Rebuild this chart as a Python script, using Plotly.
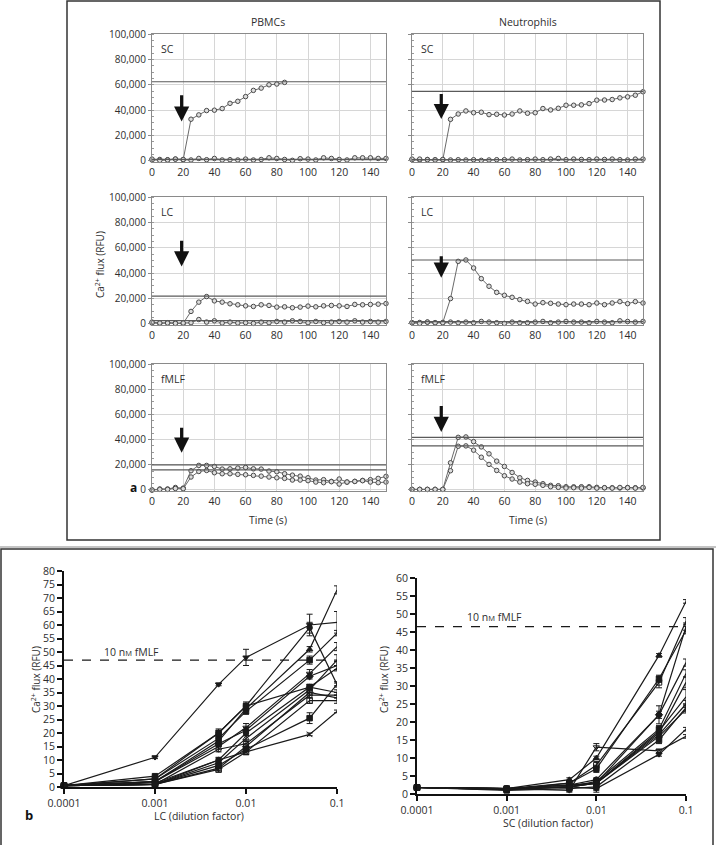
import plotly.graph_objects as go

W, H = 716, 845

# ---------------- panel a data ----------------
time_s = [0, 5, 10, 15, 20, 25, 30, 35, 40, 45, 50, 55, 60, 65, 70, 75, 80, 85, 90,
          95, 100, 105, 110, 115, 120, 125, 130, 135, 140, 145, 150]
time_ticks = [0, 20, 40, 60, 80, 100, 120, 140]

pbmc_sc = [800, 1200, 1000, 1500, 1000, 32900, 36300, 39700, 40000, 41300, 45400, 47000,
           50700, 55600, 57400, 60000, 60600, 61900]
pbmc_sc_base = [1500, 500, 800, 1500, 1200, 800, 2000, 1000, 2000, 800, 1000, 800, 1500, 800,
                1200, 2500, 2000, 1200, 500, 1800, 1500, 800, 2500, 2000, 1200, 800, 2500,
                2500, 2500, 2000, 2000]
neut_sc = [1000, 800, 1200, 1000, 1000, 32800, 37000, 39400, 38000, 38400, 36500, 36800,
           36200, 37000, 39400, 37600, 38000, 41300, 40200, 41500, 43900, 43900, 44200,
           45200, 47900, 48000, 48400, 49700, 50500, 51800, 54500]
neut_sc_base = [1500, 1500, 1000, 800, 1200, 800, 1000, 800, 1000, 500, 800, 1000, 1000, 1500,
                800, 1000, 1500, 1000, 1500, 2000, 1000, 1500, 1200, 1000, 1500, 1200, 1500,
                1000, 800, 1500, 1500]
pbmc_lc = [800, 500, 1000, 800, 500, 9900, 17200, 21600, 18200, 17200, 15900, 15100, 14300,
           13800, 15100, 14600, 13300, 13500, 12800, 13300, 14100, 13500, 14300, 14600,
           14300, 13800, 15400, 15100, 15400, 15600, 16100]
pbmc_lc_base = [1500, 800, 800, 500, 800, 1000, 3500, 1500, 2500, 800, 1500, 800, 1000, 500,
                1500, 1000, 2000, 1500, 2500, 2000, 1000, 2000, 1000, 1500, 2000, 1500, 2500,
                1500, 2000, 1500, 2000]
neut_lc = [1000, 1200, 1500, 1000, 1200, 20000, 49300, 50400, 44100, 35700, 29700, 24900,
           22600, 21000, 19200, 17800, 15700, 16800, 16300, 15700, 15200, 15700, 15700,
           15200, 16500, 15200, 16500, 17600, 16000, 17600, 16500]
neut_lc_base = [1000, 500, 1500, 1000, 1000, 1500, 1000, 1500, 1000, 2000, 1500, 1000, 500,
                1500, 1000, 1000, 1500, 2000, 1000, 1500, 2000, 1500, 1500, 1000, 2000, 1500,
                1000, 2500, 2000, 1500, 2000]
pbmc_fmlf_a = [0, 800, 800, 2000, 1500, 15300, 19500, 19500, 18700, 16600, 16800, 17400,
               17900, 16800, 16600, 15000, 14500, 12900, 11800, 11000, 9700, 7900, 8200,
               6800, 8700, 6300, 6800, 7600, 8200, 9200, 10800]
pbmc_fmlf_b = [0, 500, 500, 1200, 1000, 10300, 14700, 15500, 13700, 12900, 12900, 12400,
               12100, 11600, 11000, 10300, 9700, 9200, 7900, 7900, 7400, 6300, 5800, 6600,
               4700, 6300, 6800, 7400, 6300, 5800, 6300]
neut_fmlf_a = [500, 500, 500, 500, 500, 21600, 41800, 42100, 38400, 34200, 28700, 22900,
               18700, 13900, 9700, 7600, 6300, 5000, 3700, 3400, 2600, 2500, 2600, 2600,
               2100, 1800, 1800, 1600, 2000, 1800, 1600]
neut_fmlf_b = [500, 500, 500, 500, 500, 15300, 34700, 35000, 31600, 26000, 20300, 15500,
               11300, 8700, 6300, 5000, 4500, 3700, 2600, 2100, 1600, 1800, 1500, 2000, 1500,
               1800, 1500, 2000, 1800, 1500, 2000]

# threshold lines per panel (RFU)
thr_pbmc_sc = [62400, 1300]
thr_neut_sc = [54800, 1000]
thr_pbmc_lc = [21900, 2600]
thr_neut_lc = [50400, 1800]
thr_pbmc_fmlf = [20000, 16000]
thr_neut_fmlf = [41800, 35000]

# stimulus arrows (time, tail RFU, tip RFU)
arrow_time = 19
arrow_tail = [53000, 54000, 66700, 54600, 50500, 67900]
arrow_tip = [31000, 33000, 45300, 36500, 29500, 46000]

stim_labels = ["SC", "SC", "LC", "LC", "fMLF", "fMLF"]

# ---------------- panel b data ----------------
dilution = [0.0001, 0.001, 0.005, 0.01, 0.05, 0.1]
dil_ticks = [0.0001, 0.001, 0.01, 0.1]
dil_ticktext = ["0.0001", "0.001", "0.01", "0.1"]

lc_series = [
    [0.5, 11, 38, 48, 60, 61],
    [0.5, 3, 20, 30, 59, 38],
    [0.5, 2, 17, 29, 51, 73],
    [0.5, 3, 18, 28, 47, 57],
    [0.5, 2, 15, 22, 42, 52],
    [0.5, 2, 16, 21, 41, 45],
    [0.5, 1.5, 10, 20, 37, 44],
    [0.5, 1, 9, 18, 36, 47],
    [0.5, 4, 20, 30, 37, 35],
    [0.5, 1, 7, 15, 35, 33],
    [0.5, 1, 6.5, 13, 32, 32],
    [0.5, 1, 14, 16, 34, 34],
    [0.5, 1, 10, 13, 19.5, 28],
    [0.5, 1, 8, 14, 25.5, 38],
]
lc_errors = [
    [0, 0.5, 0.5, 3, 4, 4],
    [0, 0.5, 1, 1, 2, 0.5],
    [0, 0.3, 1, 1, 1, 1.5],
    [0, 0.5, 1, 1, 1.5, 1],
    [0, 0.3, 1, 1.5, 1.5, 1.5],
    [0, 0.3, 1, 1, 1, 1.5],
    [0, 0.3, 1, 1, 1, 1],
    [0, 0.3, 1, 1, 1, 2],
    [0, 0.5, 1.5, 1.5, 1, 1],
    [0, 0.3, 1, 1, 1, 1],
    [0, 0.3, 1, 1, 1, 1],
    [0, 0.3, 1, 1, 1, 1],
    [0, 0.3, 0.5, 1, 0.5, 0.5],
    [0, 0.3, 1, 1, 2, 1],
]
lc_symbols = ["triangle-down", "circle", "triangle-up", "square", "triangle-down-open",
              "diamond", "circle", "triangle-up-open", "square", "diamond-open",
              "square-open", "circle-open", "x-thin-open", "square"]

sc_series = [
    [1.8, 1.5, 4, 10, 38.5, 53.5],
    [1.8, 1.5, 3, 8, 31, 48],
    [1.8, 1.2, 3, 7, 32, 45.5],
    [1.8, 1.5, 2.5, 3, 22, 46.5],
    [1.8, 1.5, 2.5, 4, 22, 36.5],
    [1.8, 1.5, 2, 3.5, 18, 33.5],
    [1.8, 1.2, 2, 3, 17, 31],
    [1.8, 1.5, 2.5, 3, 17.5, 27],
    [1.8, 1.2, 2, 3, 16.5, 25],
    [1.8, 1.5, 2, 3, 16, 23.5],
    [1.8, 1.5, 2, 1.5, 11, 18],
    [1.8, 1.5, 1, 13, 12, 16],
    [1.8, 1.0, 1.5, 2, 15, 24],
]
sc_errors = [
    [0.3, 0.3, 0.5, 0.5, 0.5, 0.5],
    [0.3, 0.3, 0.5, 1, 1.5, 1],
    [0.3, 0.3, 0.5, 1, 1, 1],
    [0.3, 0.3, 0.5, 0.5, 2.5, 1],
    [0.3, 0.3, 0.5, 0.5, 1, 1],
    [0.3, 0.3, 0.5, 0.5, 1, 1],
    [0.3, 0.3, 0.5, 0.5, 1, 1.5],
    [0.3, 0.3, 0.5, 0.5, 1, 2],
    [0.3, 0.3, 0.5, 0.5, 1, 1],
    [0.3, 0.3, 0.5, 0.5, 1, 1],
    [0.3, 0.3, 0.5, 0.5, 0.5, 0.5],
    [0.3, 0.3, 0.5, 1, 0.5, 0.5],
    [0.3, 0.3, 0.5, 1.5, 1, 1],
]
sc_symbols = ["triangle-up", "square-open", "square", "diamond", "circle", "square",
              "circle", "circle-open", "triangle-up-open", "triangle-up", "triangle-down",
              "triangle-down-open", "square"]

fmlf_ref = [47, 46.5]

# ---------------- helpers ----------------
def px(xp):
    return xp / W

def py(yp):
    return 1 - yp / H

FONT = "Open Sans, Lato, DejaVu Sans, sans-serif"
TXT = "#2e2e2e"
FS = 10

fig = go.Figure()

col_px = [(152, 386), (412, 643)]
row_px = [(34, 162), (197, 325), (364, 491)]

panels = [
    (0, 0, [pbmc_sc, pbmc_sc_base], thr_pbmc_sc),
    (0, 1, [neut_sc, neut_sc_base], thr_neut_sc),
    (1, 0, [pbmc_lc, pbmc_lc_base], thr_pbmc_lc),
    (1, 1, [neut_lc, neut_lc_base], thr_neut_lc),
    (2, 0, [pbmc_fmlf_a, pbmc_fmlf_b], thr_pbmc_fmlf),
    (2, 1, [neut_fmlf_a, neut_fmlf_b], thr_neut_fmlf),
]

shapes = []
annotations = []
layout_axes = {}

for i, (r, c, series, thr) in enumerate(panels):
    n = i + 1
    xa = "x" if n == 1 else f"x{n}"
    ya = "y" if n == 1 else f"y{n}"
    xkey = "xaxis" if n == 1 else f"xaxis{n}"
    ykey = "yaxis" if n == 1 else f"yaxis{n}"
    x0p, x1p = col_px[c]
    y0p, y1p = row_px[r]
    layout_axes[xkey] = dict(
        domain=[px(x0p), px(x1p)], anchor=ya, range=[0, 150], automargin=False,
        tickvals=time_ticks, showgrid=True, gridcolor="#d6d6d6", gridwidth=1,
        showline=True, mirror=True, linecolor="#8a8a8a", linewidth=1,
        ticks="", zeroline=False, tickfont=dict(size=FS + 0.5, color=TXT, family=FONT),
    )
    layout_axes[ykey] = dict(
        domain=[py(y1p), py(y0p)], anchor=xa, range=[-800, 100000], automargin=False,
        tickvals=[0, 20000, 40000, 60000, 80000, 100000], tickformat=",d",
        showgrid=True, gridcolor="#d6d6d6", gridwidth=1,
        showline=True, mirror=True, linecolor="#8a8a8a", linewidth=1,
        ticks="outside", ticklen=3, tickcolor="#8a8a8a",
        minor=dict(dtick=5000, tick0=0, ticks="inside", ticklen=2, tickcolor="#999999",
                   showgrid=False),
        zeroline=False, showticklabels=(c == 0),
        tickfont=dict(size=FS, color=TXT, family=FONT),
    )
    for s in series:
        fig.add_trace(go.Scatter(
            x=time_s[:len(s)], y=s, xaxis=xa, yaxis=ya, mode="lines+markers",
            line=dict(color="#6a6a6a", width=1),
            marker=dict(symbol="circle", size=4.5, color="#dcdcdc",
                        line=dict(color="#4a4a4a", width=1)),
            showlegend=False, cliponaxis=False,
        ))
    for t in thr:
        shapes.append(dict(type="line", xref=f"{xa} domain", yref=ya, x0=0, x1=1,
                           y0=t, y1=t, line=dict(color="#5a5a5a", width=1.2)))
    annotations.append(dict(
        x=arrow_time, y=arrow_tip[i], ax=arrow_time, ay=arrow_tail[i],
        xref=xa, yref=ya, axref=xa, ayref=ya, showarrow=True, text="",
        arrowhead=2, arrowsize=0.95, arrowwidth=3.2, arrowcolor="#111111"))
    annotations.append(dict(
        x=0.03, y=0.88, xref=f"{xa} domain", yref=f"{ya} domain", text=stim_labels[i],
        showarrow=False, xanchor="left", yanchor="middle",
        font=dict(size=FS + 0.5, color=TXT, family=FONT)))

b_axes = [
    (7, (64, 337), (571, 787), [0, 80], lc_series, lc_errors, lc_symbols, fmlf_ref[0]),
    (8, (417, 686), (578, 794), [0, 60], sc_series, sc_errors, sc_symbols, fmlf_ref[1]),
]
for n, (x0p, x1p), (y0p, y1p), yr, ser, errs, syms, ref in b_axes:
    xa, ya = f"x{n}", f"y{n}"
    layout_axes[f"xaxis{n}"] = dict(
        domain=[px(x0p), px(x1p)], anchor=ya, type="log", range=[-4, -1],
        automargin=False,
        tickvals=dil_ticks, ticktext=dil_ticktext, showgrid=False, zeroline=False,
        showline=True, linecolor="#111111", linewidth=2, ticks="outside", ticklen=5,
        tickwidth=1.5, tickcolor="#111111",
        tickfont=dict(size=FS + 0.5, color=TXT, family=FONT))
    layout_axes[f"yaxis{n}"] = dict(
        domain=[py(y1p), py(y0p)], anchor=xa, range=yr, dtick=5, showgrid=False,
        automargin=False,
        zeroline=False, showline=True, linecolor="#111111", linewidth=2,
        ticks="outside", ticklen=5, tickwidth=1.5, tickcolor="#111111",
        tickfont=dict(size=FS + 0.5, color=TXT, family=FONT))
    for s, e, sym in zip(ser, errs, syms):
        fig.add_trace(go.Scatter(
            x=dilution, y=s, xaxis=xa, yaxis=ya, mode="lines+markers",
            line=dict(color="#1a1a1a", width=1.2),
            marker=dict(symbol=sym, size=5.5, color="#1a1a1a",
                        line=dict(color="#1a1a1a", width=1)),
            error_y=dict(type="data", array=e, color="#1a1a1a", thickness=1, width=3),
            showlegend=False, cliponaxis=False))
    shapes.append(dict(type="line", xref=f"{xa} domain", yref=ya, x0=0, x1=1,
                       y0=ref, y1=ref, line=dict(color="#1a1a1a", width=1.3, dash="dash")))

# frames
shapes.append(dict(type="rect", xref="paper", yref="paper", x0=px(67), x1=px(660),
                   y0=py(540), y1=py(1), line=dict(color="#333333", width=1.5)))
shapes.append(dict(type="line", xref="paper", yref="paper", x0=0, x1=1,
                   y0=py(547), y1=py(547), line=dict(color="#8a8a8a", width=1.2)))
shapes.append(dict(type="rect", xref="paper", yref="paper", x0=px(1), x1=px(713),
                   y0=py(850), y1=py(549), line=dict(color="#333333", width=1.5)))

def txt(text, xp_, yp_, size=FS, bold=False, angle=0, xanchor="center"):
    annotations.append(dict(
        x=px(xp_), y=py(yp_), xref="paper", yref="paper", text=text, showarrow=False,
        textangle=angle, xanchor=xanchor, yanchor="middle",
        font=dict(size=size, color=TXT if not bold else "#111111", family=FONT,
                  weight="bold" if bold else "normal")))

txt("PBMCs", 268, 22, 10.5)
txt("Neutrophils", 528, 22, 10.5)
txt("Time (s)", 268, 520, 10.5)
txt("Time (s)", 528, 520, 10.5)
txt("Ca<sup>2+</sup> flux (RFU)", 100, 265, 10, angle=-90)
txt("a", 133, 487, 12, bold=True)
txt("b", 29, 815, 13, bold=True)
txt("Ca<sup>2+</sup> flux (RFU)", 36, 680, 10, angle=-90)
txt("Ca<sup>2+</sup> flux (RFU)", 384, 680, 10, angle=-90)
txt("LC (dilution factor)", 199, 816, 10.5)
txt("SC (dilution factor)", 548, 823, 10.5)
txt("10 n<span style='font-size:7.5px'>M</span> fMLF", 102, 652, 10.5, xanchor="left")
txt("10 n<span style='font-size:7.5px'>M</span> fMLF", 465, 617, 10.5, xanchor="left")

fig.update_layout(
    width=W, height=H, margin=dict(l=0, r=0, t=0, b=0, pad=0, autoexpand=False),
    paper_bgcolor="white", plot_bgcolor="white",
    shapes=shapes, annotations=annotations, showlegend=False,
    font=dict(family=FONT, color=TXT),
    **layout_axes,
)

fig.write_html("out.html", config={"displayModeBar": False},
               post_script="document.body.style.margin='0';document.body.style.overflow='hidden';")
